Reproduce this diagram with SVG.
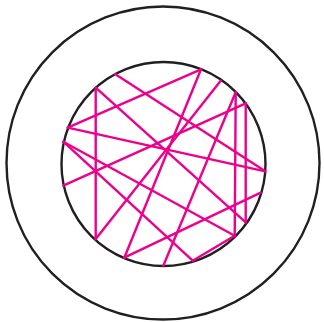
<svg xmlns="http://www.w3.org/2000/svg" width="324" height="322" viewBox="0 0 324 322">
<style>
.ring{fill:none;stroke:#231f20;stroke-width:2.4}
.chord{stroke:#ec008c;stroke-width:2.4;stroke-linecap:round}
</style>
<rect width="324" height="322" fill="#fff"/>
<g id="outer"><circle class="ring" cx="163" cy="163" r="156.5"/></g>
<g id="inner"><circle class="ring" cx="163.5" cy="164" r="102"/></g>
<g id="chords">
<line class="chord" x1="95.7" y1="87.7" x2="95.7" y2="239"/>
<line class="chord" x1="95.7" y1="87.7" x2="245.7" y2="222.3"/>
<line class="chord" x1="115" y1="74" x2="265.3" y2="171.3"/>
<line class="chord" x1="201" y1="69.3" x2="67.7" y2="127.7"/>
<line class="chord" x1="201" y1="69.3" x2="124.3" y2="257.7"/>
<line class="chord" x1="220.7" y1="80.7" x2="95.7" y2="239"/>
<line class="chord" x1="235.7" y1="92.3" x2="163.3" y2="265.7"/>
<line class="chord" x1="235.7" y1="92.3" x2="234.7" y2="235.7"/>
<line class="chord" x1="245.7" y1="103.3" x2="245.7" y2="222.3"/>
<line class="chord" x1="245.7" y1="103.3" x2="63.3" y2="185.7"/>
<line class="chord" x1="67.7" y1="127.7" x2="265.3" y2="171.3"/>
<line class="chord" x1="63.3" y1="141.7" x2="192.7" y2="260.7"/>
<line class="chord" x1="63.3" y1="141.7" x2="234.7" y2="235.7"/>
<line class="chord" x1="260.7" y1="192.7" x2="124.3" y2="257.7"/>
<line class="chord" x1="192.7" y1="260.7" x2="234.7" y2="235.7"/>
</g>
</svg>
